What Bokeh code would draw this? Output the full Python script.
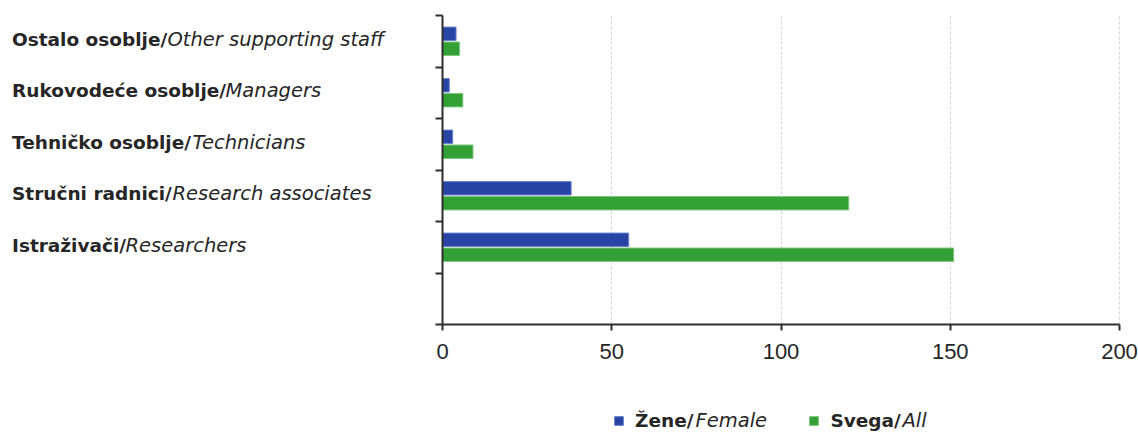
from bokeh.plotting import figure
from bokeh.models import (Range1d, FixedTicker, LinearAxis, Label, Legend,
                          LegendItem, ColumnDataSource)
from bokeh.transform import dodge
from bokeh.embed import file_html
from bokeh.resources import INLINE

# ---------------- data ----------------
categories_hr = ["Ostalo osoblje/", "Rukovodeće osoblje/", "Tehničko osoblje/",
                 "Stručni radnici/", "Istraživači/"]
categories_en = ["Other supporting staff", "Managers", "Technicians",
                 "Research associates", "Researchers"]
female = [4, 2, 3, 38, 55]
all_staff = [5, 6, 9, 120, 151]
x_ticks = [0, 50, 100, 150, 200]
series_hr = ["Žene/", "Svega/"]
series_en = ["Female", "All"]

# ---------------- layout / style ----------------
W, H = 1138, 433             # canvas == frame (axes at fixed locations)
N_SLOTS = 6
X_ZERO_PX, X_MAX_PX = 442, 1119   # canvas px of x=0 and x=200
Y_ZERO_PX, SLOT_PX = 324, 51.5    # canvas px of y=0, px per category slot
XMAX = x_ticks[-1]
SX = (X_MAX_PX - X_ZERO_PX) / XMAX
BLUE, GREEN = "#2845a6", "#33a035"
TXT = "#262626"
AX = "#2e2e2e"
FONT = "DejaVu Sans"


def px_x(cx):
    return (cx - X_ZERO_PX) / SX


def px_y(cy):
    return (Y_ZERO_PX - cy) / SLOT_PX


pos = [N_SLOTS - i - 0.5 for i in range(len(categories_hr))]
src = ColumnDataSource(dict(pos=pos, female=female, all=all_staff))

p = figure(frame_width=W, frame_height=H,
           min_border_left=0, min_border_right=0,
           min_border_top=0, min_border_bottom=0,
           x_range=Range1d(px_x(0), px_x(W)),
           y_range=Range1d(px_y(H), px_y(0)),
           y_axis_location=None, output_backend="svg", toolbar_location=None)
p.outline_line_color = None
p.background_fill_color = "white"
p.border_fill_color = "white"

r_f = p.hbar(y=dodge("pos", 0.145), left=0, right="female", height=0.26,
             source=src, fill_color=BLUE, line_color="#6c80cc", line_width=1)
r_a = p.hbar(y=dodge("pos", -0.145), left=0, right="all", height=0.26,
             source=src, fill_color=GREEN, line_color="#7cc47c", line_width=1)

# x axis at y = 0
xa = p.xaxis[0]
xa.fixed_location = 0
xa.bounds = (0, XMAX)
xa.ticker = FixedTicker(ticks=x_ticks)
xa.major_label_text_font = "Liberation Sans"
xa.major_label_text_font_size = "22px"
xa.major_label_text_color = TXT
xa.axis_line_width = 2
xa.axis_line_color = AX
xa.major_tick_line_width = 2
xa.major_tick_line_color = AX
xa.major_tick_out = 6
xa.major_tick_in = 0
xa.minor_tick_out = 0
xa.minor_tick_in = 0
xa.major_label_standoff = 13

for g in p.ygrid:
    g.visible = False
p.xgrid.ticker = FixedTicker(ticks=x_ticks[1:])
p.xgrid.cross_bounds = (0, N_SLOTS)
p.xgrid.grid_line_color = "#d5d5d5"
p.xgrid.grid_line_dash = "3 2"
p.xgrid.grid_line_width = 1

# y axis at x = 0: line + slot-boundary ticks only
ya = LinearAxis(fixed_location=0, bounds=(0, N_SLOTS),
                ticker=FixedTicker(ticks=list(range(N_SLOTS + 1))),
                major_label_overrides={i: "" for i in range(N_SLOTS + 1)},
                axis_line_width=2, axis_line_color=AX,
                major_tick_line_width=2, major_tick_line_color=AX,
                major_tick_out=7, major_tick_in=0,
                minor_tick_out=0, minor_tick_in=0)
p.add_layout(ya, "left")

# category labels (bold Croatian / italic English)
bold_x = 11.5
italic_x = [167, 225, 192, 172, 125]
for i, (hr, en) in enumerate(zip(categories_hr, categories_en)):
    p.add_layout(Label(x=px_x(bold_x), y=pos[i], text=hr, text_font=FONT,
                       text_font_style="bold", text_font_size="18.5px",
                       text_color=TXT, text_baseline="middle", text_align="left",
                       y_offset=2))
    p.add_layout(Label(x=px_x(italic_x[i]), y=pos[i], text=en, text_font=FONT,
                       text_font_style="italic", text_font_size="19.5px",
                       text_color=TXT, text_baseline="middle", text_align="left",
                       y_offset=2))

# legend
LEG_Y = 420
legend = Legend(items=[LegendItem(label=series_hr[0], renderers=[r_f]),
                       LegendItem(label=series_hr[1], renderers=[r_a])],
                orientation="horizontal", location=(613, H - LEG_Y - 11),
                glyph_width=11, glyph_height=11, label_standoff=11,
                spacing=115, padding=0, margin=0,
                border_line_color=None, background_fill_alpha=0,
                label_text_font=FONT, label_text_font_style="bold",
                label_text_font_size="18.5px", label_text_color=TXT)
p.add_layout(legend)

for cx, txt in zip([695, 902], series_en):
    p.add_layout(Label(x=px_x(cx), y=px_y(LEG_Y), text=txt, text_font=FONT,
                       text_font_style="italic", text_font_size="19.5px",
                       text_color=TXT, text_baseline="middle", text_align="left"))

open("out.html", "w").write(file_html(p, INLINE))
